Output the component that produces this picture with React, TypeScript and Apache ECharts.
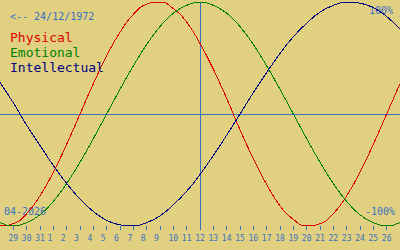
import React, { useEffect, useRef } from "react";
import * as echarts from "echarts";

// Days shown (28 March 2026 .. 27 April 2026)
const days: string[] = [
  "28", "29", "30", "31", "1", "2", "3", "4", "5", "6", "7", "8", "9", "10", "11",
  "12", "13", "14", "15", "16", "17", "18", "19", "20", "21", "22", "23", "24", "25", "26", "27",
];

const physical: number[] = [
  -1.0, -0.98, -0.89, -0.73, -0.52, -0.27, 0, 0.27, 0.52, 0.73, 0.89, 0.98, 1.0, 0.94, 0.82,
  0.63, 0.4, 0.14, -0.14, -0.4, -0.63, -0.82, -0.94, -1.0, -0.98, -0.89, -0.73, -0.52, -0.27, 0, 0.27,
];

const emotional: number[] = [
  -0.97, -1.0, -0.97, -0.9, -0.78, -0.62, -0.43, -0.22, 0, 0.22, 0.43, 0.62, 0.78, 0.9, 0.97,
  1.0, 0.97, 0.9, 0.78, 0.62, 0.43, 0.22, 0, -0.22, -0.43, -0.62, -0.78, -0.9, -0.97, -1.0, -0.97,
];

const intellectual: number[] = [
  0.28, 0.1, -0.1, -0.28, -0.46, -0.62, -0.76, -0.87, -0.95, -0.99, -1.0, -0.97, -0.91, -0.81, -0.69,
  -0.54, -0.37, -0.19, 0, 0.19, 0.37, 0.54, 0.69, 0.81, 0.91, 0.97, 1.0, 0.99, 0.95, 0.87, 0.76,
];

const seriesNames: string[] = ["Physical", "Emotional", "Intellectual"];
const birthLabel = "<-- 24/12/1972";
const monthLabel = "04-2026";
const topLabel = "100%";
const bottomLabel = "-100%";
const todayLabel = "12";

const BG = "#e0d080";
const BLUE = "#3a70c4";
const RED = "#dd0000";
const GREEN = "#008000";
const NAVY = "#000080";
const MONO = "'DejaVu Sans Mono', monospace";

export default function App() {
  const ref = useRef<HTMLDivElement>(null);

  useEffect(() => {
    if (!ref.current) return;
    const chart = echarts.init(ref.current, undefined, { renderer: "svg" });
    const colors = [RED, GREEN, NAVY];
    const datas = [physical, emotional, intellectual];
    const visibleIdx = (i: number) => i > 0 && i < days.length - 1;

    chart.setOption({
      animation: false,
      backgroundColor: BG,
      title: {
        text: birthLabel,
        left: 10,
        top: 11,
        padding: 0,
        textStyle: { color: BLUE, fontFamily: MONO, fontSize: 10, fontWeight: "normal" },
      },
      legend: {
        orient: "vertical",
        left: 5,
        top: 30,
        padding: 0,
        icon: "none",
        itemWidth: 0,
        itemHeight: 10,
        itemGap: 0,
        selectedMode: false,
        textStyle: { fontFamily: MONO, fontSize: 13, lineHeight: 15 },
        data: seriesNames.map((n, i) => ({ name: n, textStyle: { color: colors[i] } })),
      },
      grid: { left: 0, right: 0, top: 2, bottom: 24, containLabel: false },
      xAxis: {
        type: "category",
        data: days,
        boundaryGap: false,
        axisLine: { show: false, onZero: false },
        axisTick: {
          show: true,
          length: 4,
          interval: (i: number) => visibleIdx(i),
          lineStyle: { color: BLUE, width: 1 },
        },
        axisLabel: {
          interval: (i: number) => visibleIdx(i),
          margin: 8,
          color: BLUE,
          fontFamily: MONO,
          fontSize: 8,
          formatter: (v: string) => (v.length === 1 ? `{s|${v}}` : `{d|${v}}`),
          rich: {
            s: { color: BLUE, fontFamily: MONO, fontSize: 8, padding: [0, 7, 0, 0] },
            d: { color: BLUE, fontFamily: MONO, fontSize: 8 },
          },
        },
        splitLine: { show: false },
      },
      yAxis: {
        type: "value",
        min: -1,
        max: 1,
        show: false,
      },
      graphic: [
        {
          type: "text",
          left: 369,
          top: 5,
          style: { text: topLabel, fill: BLUE, font: `10px ${MONO}` },
        },
        {
          type: "text",
          left: 365,
          top: 206,
          style: { text: bottomLabel, fill: BLUE, font: `10px ${MONO}` },
        },
        {
          type: "text",
          left: 4,
          top: 206,
          style: { text: monthLabel, fill: BLUE, font: `10px ${MONO}` },
        },
      ],
      series: seriesNames.map((name, i) => ({
        name,
        type: "line",
        data: datas[i],
        smooth: true,
        symbol: "none",
        lineStyle: { color: colors[i], width: 1 },
        itemStyle: { color: colors[i] },
        z: 3,
        markLine:
          i === 0
            ? {
                silent: true,
                symbol: "none",
                label: { show: false },
                lineStyle: { color: BLUE, width: 1, type: "solid" },
                data: [{ xAxis: todayLabel }, { yAxis: 0 }],
                z: 1,
              }
            : undefined,
      })),
    });

    return () => chart.dispose();
  }, []);

  return (
    <div
      ref={ref}
      style={{
        position: "fixed",
        left: 0,
        top: 0,
        width: 400,
        height: 250,
        background: BG,
        shapeRendering: "crispEdges",
      }}
    />
  );
}
